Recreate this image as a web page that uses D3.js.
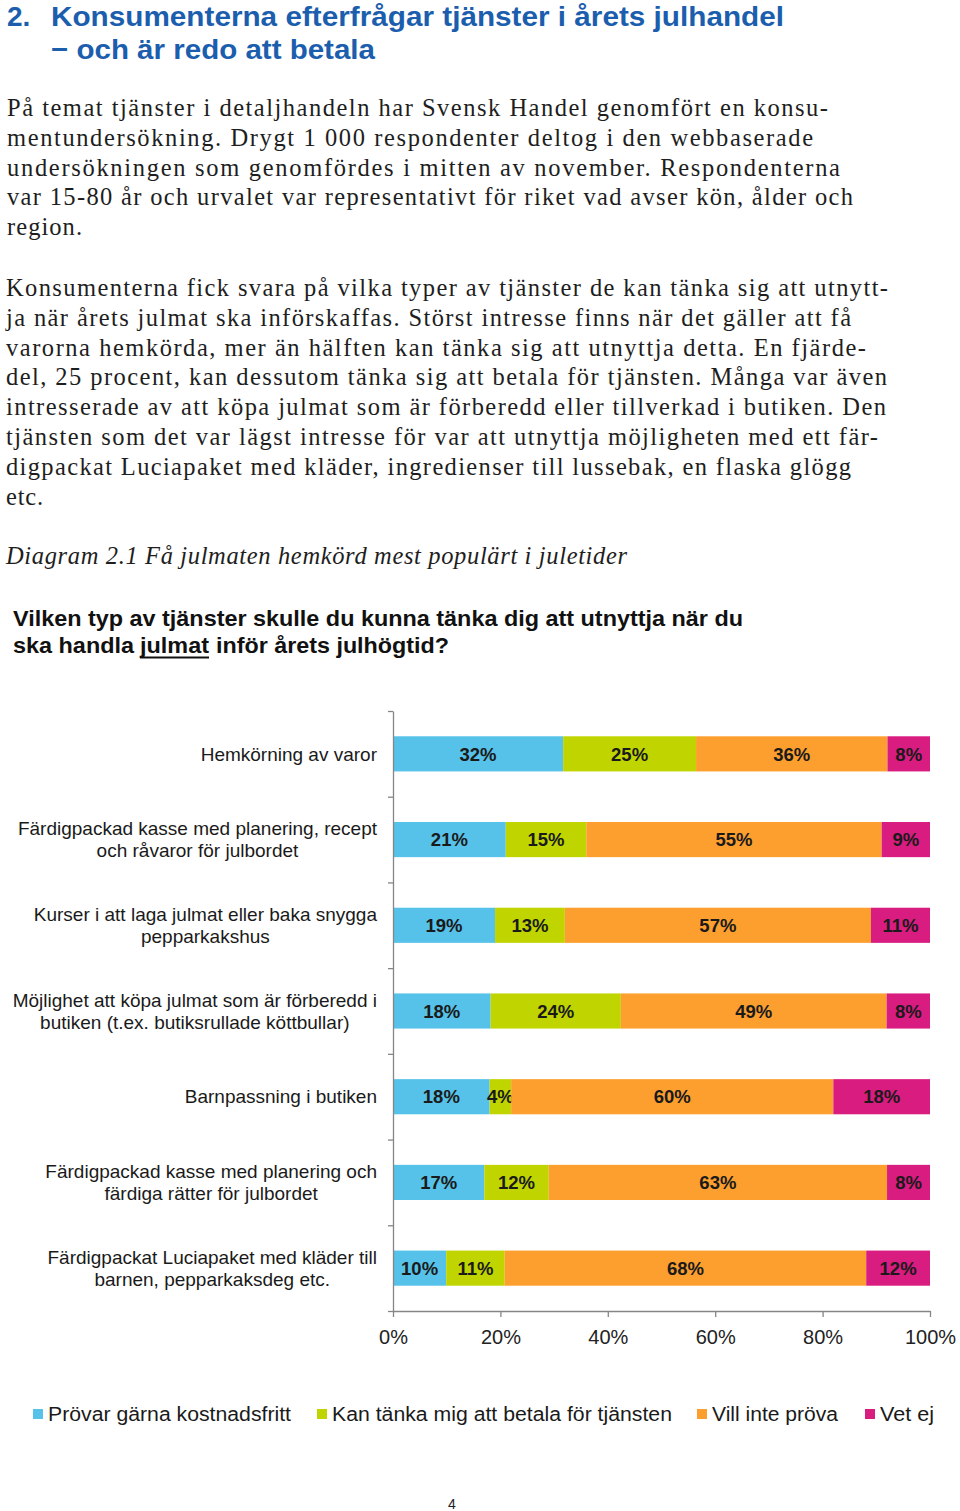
<!DOCTYPE html>
<html><head><meta charset="utf-8">
<script src="https://cdn.jsdelivr.net/npm/d3@7"></script>
<style>body{margin:0;background:#fff}svg{display:block}</style>
</head><body><svg id="c" width="960" height="1511"></svg>
<script>
// ---- data ----
const categories = [
  "Hemkörning av varor",
  "Färdigpackad kasse med planering, recept och råvaror för julbordet",
  "Kurser i att laga julmat eller baka snygga pepparkakshus",
  "Möjlighet att köpa julmat som är förberedd i butiken (t.ex. butiksrullade köttbullar)",
  "Barnpassning i butiken",
  "Färdigpackad kasse med planering och färdiga rätter för julbordet",
  "Färdigpackat Luciapaket med kläder till barnen, pepparkaksdeg etc."
];
const categoryLines = [
  ["Hemkörning av varor"],
  ["Färdigpackad kasse med planering, recept", "och råvaror för julbordet"],
  ["Kurser i att laga julmat eller baka snygga", "pepparkakshus"],
  ["Möjlighet att köpa julmat som är förberedd i", "butiken (t.ex. butiksrullade köttbullar)"],
  ["Barnpassning i butiken"],
  ["Färdigpackad kasse med planering och", "färdiga rätter för julbordet"],
  ["Färdigpackat Luciapaket med kläder till", "barnen, pepparkaksdeg etc."]
];
const seriesNames = ["Prövar gärna kostnadsfritt", "Kan tänka mig att betala för tjänsten", "Vill inte pröva", "Vet ej"];
const provarGarna = [32, 21, 19, 18, 18, 17, 10];
const kanBetala   = [25, 15, 13, 24, 4, 12, 11];
const villInte    = [36, 55, 57, 49, 60, 63, 68];
const vetEj       = [8, 9, 11, 8, 18, 8, 12];
const xTicks = [0, 0.2, 0.4, 0.6, 0.8, 1.0];
const seriesColors = ["#56c2e9", "#c0d500", "#fd9f2f", "#d81c80"];

const titleLines = ["Konsumenterna efterfrågar tjänster i årets julhandel", "− och är redo att betala"];
const para1 = [
  "På temat tjänster i detaljhandeln har Svensk Handel genomfört en konsu-",
  "mentundersökning. Drygt 1 000 respondenter deltog i den webbaserade",
  "undersökningen som genomfördes i mitten av november. Respondenterna",
  "var 15-80 år och urvalet var representativt för riket vad avser kön, ålder och",
  "region."
];
const para2 = [
  "Konsumenterna fick svara på vilka typer av tjänster de kan tänka sig att utnytt-",
  "ja när årets julmat ska införskaffas. Störst intresse finns när det gäller att få",
  "varorna hemkörda, mer än hälften kan tänka sig att utnyttja detta. En fjärde-",
  "del, 25 procent, kan dessutom tänka sig att betala för tjänsten. Många var även",
  "intresserade av att köpa julmat som är förberedd eller tillverkad i butiken. Den",
  "tjänsten som det var lägst intresse för var att utnyttja möjligheten med ett fär-",
  "digpackat Luciapaket med kläder, ingredienser till lussebak, en flaska glögg",
  "etc."
];
const caption = "Diagram 2.1 Få julmaten hemkörd mest populärt i juletider";

// ---- layout (styles / positions) ----
const para1Ends = [828, 813, 840, 853, 82];
const para2Ends = [888, 851, 866, 887, 886, 878, 851, 43];

const svg = d3.select("#c");
svg.append("rect").attr("width", 960).attr("height", 1511).attr("fill", "#fff");

// Title
const blue = "#1c5eae";
svg.append("text").attr("x", 7).attr("y", 26).attr("fill", blue)
  .attr("font-family", "Liberation Sans, Arial, sans-serif").attr("font-weight", "bold").attr("font-size", 28)
  .text("2.");
titleLines.forEach((t, i) => {
  svg.append("text").attr("x", 51).attr("y", 26 + i * 33).attr("fill", blue)
    .attr("font-family", "Liberation Sans, Arial, sans-serif").attr("font-weight", "bold").attr("font-size", 28)
    .attr("textLength", i === 0 ? 733 : 324).attr("lengthAdjust", "spacingAndGlyphs")
    .text(t);
});

// Body text
function bodyLines(lines, ends, x0, y0) {
  lines.forEach((t, i) => {
    svg.append("text").attr("x", x0).attr("y", y0 + i * 29.8).attr("fill", "#1e1e1e")
      .attr("font-family", "Liberation Serif, Times New Roman, serif").attr("font-size", 24.5)
      .attr("textLength", ends[i] - x0).attr("lengthAdjust", "spacing")
      .text(t);
  });
}
bodyLines(para1, para1Ends, 7, 116);
bodyLines(para2, para2Ends, 6, 296);
svg.append("text").attr("x", 6).attr("y", 564).attr("fill", "#1e1e1e")
  .attr("font-family", "Liberation Serif, Times New Roman, serif").attr("font-size", 24.5)
  .attr("font-style", "italic").attr("textLength", 621).attr("lengthAdjust", "spacing")
  .text(caption);

// Question
const qFont = "Liberation Sans, Arial, sans-serif";
function qText(x, y, w, t) {
  return svg.append("text").attr("x", x).attr("y", y).attr("fill", "#111")
    .attr("font-family", qFont).attr("font-weight", "bold").attr("font-size", 22)
    .attr("textLength", w).attr("lengthAdjust", "spacingAndGlyphs").text(t);
}
qText(13, 626, 730, "Vilken typ av tjänster skulle du kunna tänka dig att utnyttja när du");
qText(13, 653, 121, "ska handla");
qText(140, 653, 69, "julmat");
qText(216, 653, 233, "inför årets julhögtid?");
svg.append("line").attr("x1", 140).attr("x2", 209).attr("y1", 657.5).attr("y2", 657.5)
  .attr("stroke", "#111").attr("stroke-width", 2);

// ---- chart ----
const x = d3.scaleLinear().domain([0, 1]).range([393, 930]);
const y = d3.scaleBand().domain(categories).range([711, 1311]).paddingInner(0.59).paddingOuter(0.295);

const rows = categories.map((c, i) => ({
  cat: c,
  s0: provarGarna[i], s1: kanBetala[i], s2: villInte[i], s3: vetEj[i]
}));
const keys = ["s0", "s1", "s2", "s3"];
const stacked = d3.stack().keys(keys).offset(d3.stackOffsetExpand)(rows);

const g = svg.append("g");
stacked.forEach((layer, li) => {
  const lg = g.append("g");
  lg.selectAll("rect").data(layer).join("rect")
    .attr("x", d => x(d[0])).attr("width", d => x(d[1]) - x(d[0]))
    .attr("y", d => y(d.data.cat)).attr("height", y.bandwidth())
    .attr("fill", seriesColors[li]);
  lg.selectAll("text").data(layer).join("text")
    .attr("x", d => (x(d[0]) + x(d[1])) / 2)
    .attr("y", d => y(d.data.cat) + y.bandwidth() / 2)
    .attr("dy", "0.36em").attr("text-anchor", "middle")
    .attr("font-family", "Liberation Sans, Arial, sans-serif").attr("font-weight", "bold")
    .attr("font-size", 18.5).attr("fill", "#1a1a1a")
    .text(d => d.data[keys[li]] + "%");
});

// Y axis (category boundaries)
const yb = d3.scaleLinear().domain([0, categories.length]).range([711, 1311]);
const yAxis = svg.append("g").attr("transform", "translate(393,0)")
  .call(d3.axisLeft(yb).ticks(categories.length).tickFormat("").tickSize(5).tickSizeOuter(0));
yAxis.selectAll("line, path").attr("stroke", "#868686").attr("stroke-width", 1.3);

// X axis
const xAxis = svg.append("g").attr("transform", "translate(0,1311)")
  .call(d3.axisBottom(x).tickValues(xTicks).tickFormat(d3.format(".0%")).tickSize(6).tickPadding(13).tickSizeOuter(0));
xAxis.selectAll("line, path").attr("stroke", "#868686").attr("stroke-width", 1.3);
xAxis.selectAll("text").attr("font-family", "Liberation Sans, Arial, sans-serif").attr("font-size", 20).attr("fill", "#222");

// Category labels
const labG = svg.append("g");
categoryLines.forEach((lines, i) => {
  const cy = y(categories[i]) + y.bandwidth() / 2;
  const t = labG.append("text").attr("text-anchor", "middle")
    .attr("font-family", "Liberation Sans, Arial, sans-serif").attr("font-size", 19).attr("fill", "#1a1a1a");
  const n = lines.length;
  const ts = lines.map((ln, j) => t.append("tspan").attr("y", cy + (j - (n - 1) / 2) * 22).attr("dy", "0.35em").text(ln));
  const maxW = d3.max(ts, s => s.node().getComputedTextLength());
  ts.forEach(s => s.attr("x", 377 - maxW / 2));
});

// Legend
const legendX = [33, 317, 697, 865];
const legendW = [243, 340, 126, 54];
seriesNames.forEach((nm, i) => {
  svg.append("rect").attr("x", legendX[i]).attr("y", 1409).attr("width", 10).attr("height", 10)
    .attr("fill", seriesColors[i]);
  svg.append("text").attr("x", legendX[i] + 15).attr("y", 1421)
    .attr("font-family", "Liberation Sans, Arial, sans-serif").attr("font-size", 20).attr("fill", "#1a1a1a")
    .attr("textLength", legendW[i]).attr("lengthAdjust", "spacingAndGlyphs")
    .text(nm);
});

// Page number
svg.append("text").attr("x", 452).attr("y", 1509).attr("text-anchor", "middle")
  .attr("font-family", "Liberation Sans, Arial, sans-serif").attr("font-size", 14).attr("fill", "#222")
  .text("4");
</script>
</body></html>
